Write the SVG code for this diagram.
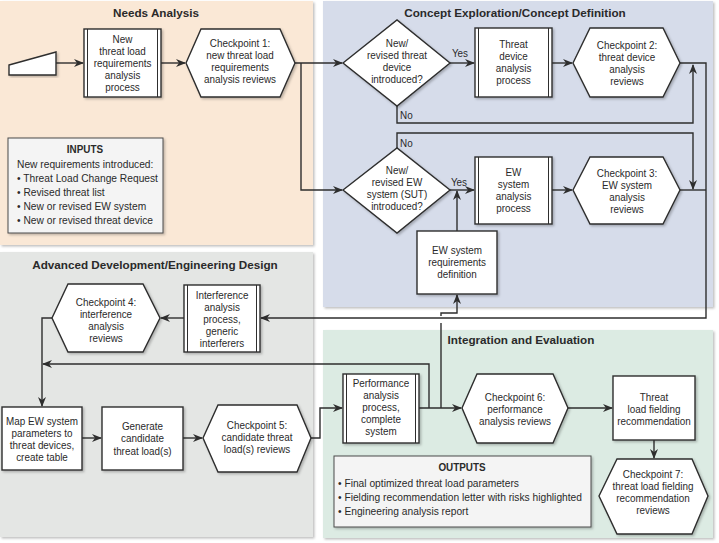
<svg xmlns="http://www.w3.org/2000/svg" width="719" height="543" viewBox="0 0 719 543">
<style>
.panel{stroke:none}
.node{fill:#ffffff;stroke:#2e2e2e;stroke-width:1.4}
.bar{fill:none;stroke:#2e2e2e;stroke-width:1}
.info{fill:#f4f4f4;stroke:#4a4a4a;stroke-width:1}
.t{font-family:"Liberation Sans",Arial,Helvetica,sans-serif;font-size:11.5px;fill:#2a2a2a;text-anchor:middle}
.l{text-anchor:start}
.b{font-weight:bold}
.title{font-family:"Liberation Sans",Arial,Helvetica,sans-serif;font-weight:bold;font-size:11.7px;fill:#2a2a2a;text-anchor:middle}
.c{fill:none;stroke:#2e2e2e;stroke-width:1.4}
</style>
<defs>
<marker id="arr" viewBox="0 0 10 8" refX="9" refY="4" markerWidth="10" markerHeight="8" markerUnits="userSpaceOnUse" orient="auto">
<path d="M0,0 L10,4 L0,8 L3,4 z" fill="#2e2e2e"/>
</marker>
<filter id="sh" x="-5%" y="-5%" width="115%" height="115%">
<feDropShadow dx="1.5" dy="1.5" stdDeviation="1" flood-color="#000" flood-opacity="0.25"/>
</filter>
</defs>

<g id="panels">
<rect class="panel" x="0" y="1" width="313" height="244" fill="#fae8d6" filter="url(#sh)"/>
<rect class="panel" x="323" y="1" width="390" height="306" fill="#d6dcea" filter="url(#sh)"/>
<rect class="panel" x="0" y="252" width="313" height="285" fill="#e4e6e4" filter="url(#sh)"/>
<rect class="panel" x="323" y="330" width="390" height="208" fill="#dcebe3" filter="url(#sh)"/>
<text class="title" x="156" y="17">Needs Analysis</text>
<text class="title" x="515" y="17">Concept Exploration/Concept Definition</text>
<text class="title" x="155" y="269">Advanced Development/Engineering Design</text>
<text class="title" x="521" y="344">Integration and Evaluation</text>
</g>

<g id="connectors">
<path class="c" d="M56,63 H83" marker-end="url(#arr)"/>
<path class="c" d="M161,63 H185" marker-end="url(#arr)"/>
<path class="c" d="M295,63 H342" marker-end="url(#arr)"/>
<path class="c" d="M301,63 V190 H342" marker-end="url(#arr)"/>
<path class="c" d="M450,63 H474" marker-end="url(#arr)"/>
<path class="c" d="M552,63 H572" marker-end="url(#arr)"/>
<path class="c" d="M397,106 V123 H693 V65" marker-end="url(#arr)"/>
<path class="c" d="M397,148 V133 H693 V189" marker-end="url(#arr)"/>
<path class="c" d="M450,190 H474" marker-end="url(#arr)"/>
<path class="c" d="M552,190 H572" marker-end="url(#arr)"/>
<path class="c" d="M457,231 V191" marker-end="url(#arr)"/>
<path class="c" d="M680,190 H706"/>
<path class="c" d="M680,63 H706 V318 H261" marker-end="url(#arr)"/>
<path class="c" d="M184,318 H161" marker-end="url(#arr)"/>
<path class="c" d="M52,318 H42 V406" marker-end="url(#arr)"/>
<path class="c" d="M82,438 H101" marker-end="url(#arr)"/>
<path class="c" d="M183,438 H202" marker-end="url(#arr)"/>
<path class="c" d="M311,438 H320 V408 H342" marker-end="url(#arr)"/>
<path class="c" d="M419,408 H461" marker-end="url(#arr)"/>
<path class="c" d="M429,408 V364 H43" marker-end="url(#arr)"/>
<path class="c" d="M441,408 V323"/>
<path class="c" d="M441,316 V313 H457 V295" marker-end="url(#arr)"/>
<path class="c" d="M568,408 H612" marker-end="url(#arr)"/>
<path class="c" d="M654,440 V458" marker-end="url(#arr)"/>
<text class="t" transform="translate(460,57) scale(0.86,1)">Yes</text>
<text class="t" transform="translate(459,186) scale(0.86,1)">Yes</text>
<text class="t l" transform="translate(400,119) scale(0.86,1)">No</text>
<text class="t l" transform="translate(400,147) scale(0.86,1)">No</text>
</g>

<g id="start">
<polygon class="node" points="9,65 56,52 56,75 9,75" filter="url(#sh)"/>
</g>

<g id="n1">
<rect class="node" x="84" y="29" width="77" height="68" filter="url(#sh)"/>
<path class="bar" d="M87.5,29 V97 M157.5,29 V97"/>
<text class="t" transform="translate(122.5,43) scale(0.86,1)">New</text>
<text class="t" transform="translate(122.5,55) scale(0.86,1)">threat load</text>
<text class="t" transform="translate(122.5,67) scale(0.86,1)">requirements</text>
<text class="t" transform="translate(122.5,79) scale(0.86,1)">analysis</text>
<text class="t" transform="translate(122.5,91) scale(0.86,1)">process</text>
</g>

<g id="cp1">
<polygon class="node" points="186,63 201,29 280,29 295,63 280,97 201,97" filter="url(#sh)"/>
<text class="t" transform="translate(240,47) scale(0.86,1)">Checkpoint 1:</text>
<text class="t" transform="translate(240,59) scale(0.86,1)">new threat load</text>
<text class="t" transform="translate(240,71) scale(0.86,1)">requirements</text>
<text class="t" transform="translate(240,83) scale(0.86,1)">analysis reviews</text>
</g>

<g id="inputs">
<rect class="info" x="8" y="138" width="155" height="95" filter="url(#sh)"/>
<text class="t b" transform="translate(85,153) scale(0.86,1)">INPUTS</text>
<text class="t l" transform="translate(17,168) scale(0.89,1)">New requirements introduced:</text>
<text class="t l" transform="translate(17,182) scale(0.89,1)">• Threat Load Change Request</text>
<text class="t l" transform="translate(17,196) scale(0.89,1)">• Revised threat list</text>
<text class="t l" transform="translate(17,210) scale(0.89,1)">• New or revised EW system</text>
<text class="t l" transform="translate(17,224) scale(0.89,1)">• New or revised threat device</text>
</g>

<g id="d1">
<polygon class="node" points="343,63 397,20 450,63 397,106" filter="url(#sh)"/>
<text class="t" transform="translate(397,47) scale(0.86,1)">New/</text>
<text class="t" transform="translate(397,59) scale(0.86,1)">revised threat</text>
<text class="t" transform="translate(397,71) scale(0.86,1)">device</text>
<text class="t" transform="translate(397,83) scale(0.86,1)">introduced?</text>
</g>

<g id="threat-device">
<rect class="node" x="475" y="28" width="77" height="69" filter="url(#sh)"/>
<path class="bar" d="M478.5,28 V97 M548.5,28 V97"/>
<text class="t" transform="translate(513.5,48) scale(0.86,1)">Threat</text>
<text class="t" transform="translate(513.5,60) scale(0.86,1)">device</text>
<text class="t" transform="translate(513.5,72) scale(0.86,1)">analysis</text>
<text class="t" transform="translate(513.5,84) scale(0.86,1)">process</text>
</g>

<g id="cp2">
<polygon class="node" points="573,63 590,28 663,28 680,63 663,97 590,97" filter="url(#sh)"/>
<text class="t" transform="translate(627,49) scale(0.86,1)">Checkpoint 2:</text>
<text class="t" transform="translate(627,61) scale(0.86,1)">threat device</text>
<text class="t" transform="translate(627,73) scale(0.86,1)">analysis</text>
<text class="t" transform="translate(627,85) scale(0.86,1)">reviews</text>
</g>

<g id="d2">
<polygon class="node" points="343,190 397,148 450,190 397,233" filter="url(#sh)"/>
<text class="t" transform="translate(397,174) scale(0.86,1)">New/</text>
<text class="t" transform="translate(397,186) scale(0.86,1)">revised EW</text>
<text class="t" transform="translate(397,198) scale(0.86,1)">system (SUT)</text>
<text class="t" transform="translate(397,210) scale(0.86,1)">introduced?</text>
</g>

<g id="ew-system">
<rect class="node" x="475" y="157" width="77" height="67" filter="url(#sh)"/>
<path class="bar" d="M478.5,157 V224 M548.5,157 V224"/>
<text class="t" transform="translate(513.5,176) scale(0.86,1)">EW</text>
<text class="t" transform="translate(513.5,188) scale(0.86,1)">system</text>
<text class="t" transform="translate(513.5,200) scale(0.86,1)">analysis</text>
<text class="t" transform="translate(513.5,212) scale(0.86,1)">process</text>
</g>

<g id="cp3">
<polygon class="node" points="573,190 590,157 663,157 680,190 663,224 590,224" filter="url(#sh)"/>
<text class="t" transform="translate(627,177) scale(0.86,1)">Checkpoint 3:</text>
<text class="t" transform="translate(627,189) scale(0.86,1)">EW system</text>
<text class="t" transform="translate(627,201) scale(0.86,1)">analysis</text>
<text class="t" transform="translate(627,213) scale(0.86,1)">reviews</text>
</g>

<g id="ew-req">
<rect class="node" x="417" y="231" width="80" height="63" filter="url(#sh)"/>
<text class="t" transform="translate(457,254) scale(0.86,1)">EW system</text>
<text class="t" transform="translate(457,266) scale(0.86,1)">requirements</text>
<text class="t" transform="translate(457,278) scale(0.86,1)">definition</text>
</g>

<g id="interference">
<rect class="node" x="184" y="285" width="76" height="67" filter="url(#sh)"/>
<path class="bar" d="M187.5,285 V352 M256.5,285 V352"/>
<text class="t" transform="translate(222,299) scale(0.86,1)">Interference</text>
<text class="t" transform="translate(222,311) scale(0.86,1)">analysis</text>
<text class="t" transform="translate(222,323) scale(0.86,1)">process,</text>
<text class="t" transform="translate(222,335) scale(0.86,1)">generic</text>
<text class="t" transform="translate(222,347) scale(0.86,1)">interferers</text>
</g>

<g id="cp4">
<polygon class="node" points="52,318 68,284 143,284 160,318 143,352 68,352" filter="url(#sh)"/>
<text class="t" transform="translate(106,306) scale(0.86,1)">Checkpoint 4:</text>
<text class="t" transform="translate(106,318) scale(0.86,1)">interference</text>
<text class="t" transform="translate(106,330) scale(0.86,1)">analysis</text>
<text class="t" transform="translate(106,342) scale(0.86,1)">reviews</text>
</g>

<g id="map">
<rect class="node" x="2" y="407" width="80" height="63" filter="url(#sh)"/>
<text class="t" transform="translate(42,425) scale(0.86,1)">Map EW system</text>
<text class="t" transform="translate(42,437) scale(0.86,1)">parameters to</text>
<text class="t" transform="translate(42,449) scale(0.86,1)">threat devices,</text>
<text class="t" transform="translate(42,461) scale(0.86,1)">create table</text>
</g>

<g id="generate">
<rect class="node" x="102" y="407" width="81" height="63" filter="url(#sh)"/>
<text class="t" transform="translate(142.5,430) scale(0.86,1)">Generate</text>
<text class="t" transform="translate(142.5,442) scale(0.86,1)">candidate</text>
<text class="t" transform="translate(142.5,455) scale(0.86,1)">threat load(s)</text>
</g>

<g id="cp5">
<polygon class="node" points="203,438 218,405 297,405 311,438 297,472 218,472" filter="url(#sh)"/>
<text class="t" transform="translate(257,429) scale(0.86,1)">Checkpoint 5:</text>
<text class="t" transform="translate(257,441) scale(0.86,1)">candidate threat</text>
<text class="t" transform="translate(257,453) scale(0.86,1)">load(s) reviews</text>
</g>

<g id="performance">
<rect class="node" x="343" y="374" width="76" height="69" filter="url(#sh)"/>
<path class="bar" d="M346.5,374 V443 M415.5,374 V443"/>
<text class="t" transform="translate(381,387) scale(0.86,1)">Performance</text>
<text class="t" transform="translate(381,399) scale(0.86,1)">analysis</text>
<text class="t" transform="translate(381,411) scale(0.86,1)">process,</text>
<text class="t" transform="translate(381,423) scale(0.86,1)">complete</text>
<text class="t" transform="translate(381,435) scale(0.86,1)">system</text>
</g>

<g id="cp6">
<polygon class="node" points="462,408 477,374 553,374 568,408 553,443 477,443" filter="url(#sh)"/>
<text class="t" transform="translate(515,401) scale(0.86,1)">Checkpoint 6:</text>
<text class="t" transform="translate(515,413) scale(0.86,1)">performance</text>
<text class="t" transform="translate(515,425) scale(0.86,1)">analysis reviews</text>
</g>

<g id="fielding">
<rect class="node" x="613" y="376" width="82" height="64" filter="url(#sh)"/>
<text class="t" transform="translate(654,401) scale(0.86,1)">Threat</text>
<text class="t" transform="translate(654,413) scale(0.86,1)">load fielding</text>
<text class="t" transform="translate(654,425) scale(0.86,1)">recommendation</text>
</g>

<g id="cp7">
<polygon class="node" points="599,496 617,459 692,459 708,496 692,534 617,534" filter="url(#sh)"/>
<text class="t" transform="translate(653,478) scale(0.86,1)">Checkpoint 7:</text>
<text class="t" transform="translate(653,490) scale(0.86,1)">threat load fielding</text>
<text class="t" transform="translate(653,502) scale(0.86,1)">recommendation</text>
<text class="t" transform="translate(653,514) scale(0.86,1)">reviews</text>
</g>

<g id="outputs">
<rect class="info" x="334" y="456" width="257" height="71" filter="url(#sh)"/>
<text class="t b" transform="translate(462,471) scale(0.86,1)">OUTPUTS</text>
<text class="t l" transform="translate(338,487) scale(0.89,1)">• Final optimized threat load parameters</text>
<text class="t l" transform="translate(338,501) scale(0.89,1)">• Fielding recommendation letter with risks highlighted</text>
<text class="t l" transform="translate(338,515) scale(0.89,1)">• Engineering analysis report</text>
</g>
</svg>
